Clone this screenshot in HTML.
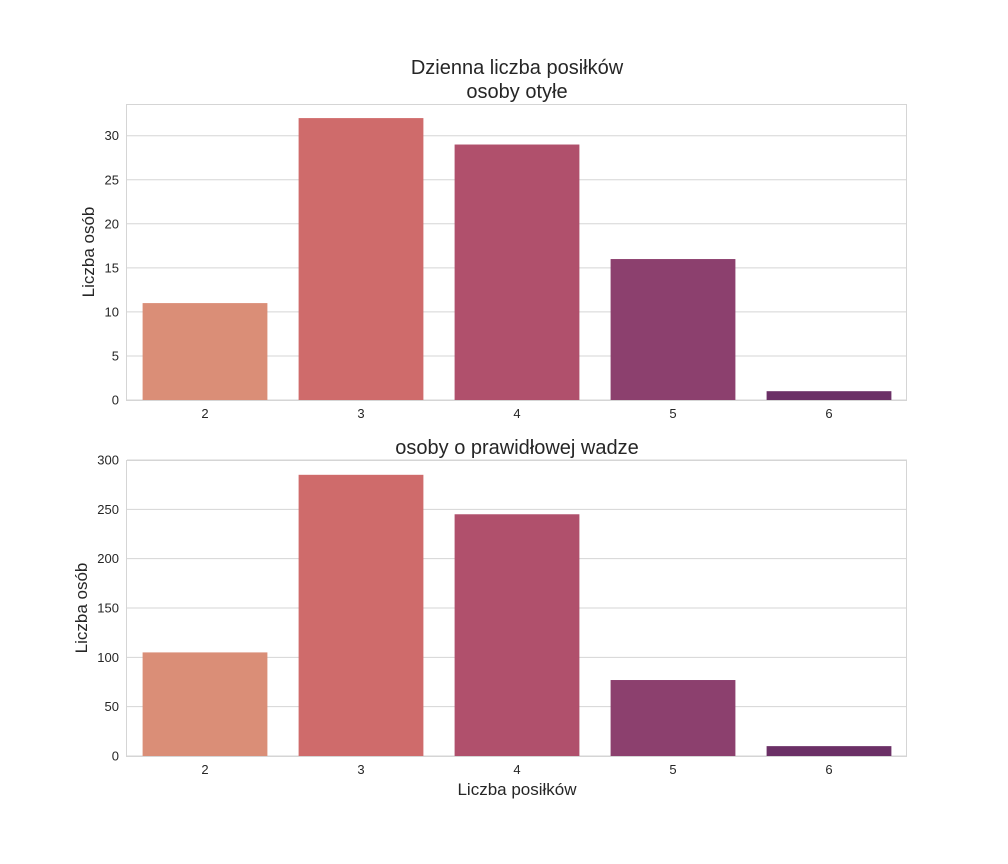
<!DOCTYPE html>
<html><head><meta charset="utf-8"><style>
body{margin:0;background:#fff}
svg{display:block;font-family:"Liberation Sans",Arial,sans-serif}
</style></head><body>
<svg id="c" width="1008" height="864" xmlns="http://www.w3.org/2000/svg"></svg>
<script>
const categories=["2","3","4","5","6"];
const obeseValues=[11,32,29,16,1];
const normalValues=[105,285,245,77,10];
const obeseTicks=[0,5,10,15,20,25,30];
const normalTicks=[0,50,100,150,200,250,300];
const colors=["#da8e77","#cf6b6b","#b0506c","#8c406e","#6b3066"];
const NS="http://www.w3.org/2000/svg";
const svg=document.getElementById('c');
function mk(t,a,txt){const e=document.createElementNS(NS,t);for(const k in a)e.setAttribute(k,a[k]);if(txt!==undefined)e.textContent=txt;svg.appendChild(e);return e;}
function panel(name,vals,ticks,top,bottom,yMax){
  const L=127,R=907;
  const y=v=>bottom-(v/yMax)*(bottom-top);
  const band=(R-L)/categories.length;
  const x=i=>L+band*i+band*0.1;
  ticks.forEach(t=>{
    const g=mk('line',{x1:L,x2:R,y1:y(t),y2:y(t),stroke:'#d5d5d5','stroke-width':1});
    
    
    const tl=mk('text',{x:L-8,y:y(t)+4.5,'text-anchor':'end','font-size':13,fill:'#262626'},String(t));
    
    
  });
  vals.forEach((v,i)=>{
    const b=mk('rect',{x:x(i),y:y(v),width:band*0.8,height:bottom-y(v),fill:colors[i]});
    
    
    const tl=mk('text',{x:x(i)+band*0.4,y:bottom+18,'text-anchor':'middle','font-size':13,fill:'#262626'},categories[i]);
    
    
  });
  const f=mk('rect',{x:L-0.5,y:top+0.5,width:R-L,height:bottom-top,fill:'none',stroke:'#d5d5d5','stroke-width':1});
  
  
}
panel('obese',obeseValues,obeseTicks,104,400,33.6);
panel('normal',normalValues,normalTicks,460,756,300);
function txt(name,a,s){const e=mk('text',a,s);}
txt('main-title',{x:517,y:74,'text-anchor':'middle','font-size':20,fill:'#262626'},'Dzienna liczba posiłków');
txt('obese-title',{x:517,y:98,'text-anchor':'middle','font-size':20,fill:'#262626'},'osoby otyłe');
txt('normal-title',{x:517,y:454,'text-anchor':'middle','font-size':20,fill:'#262626'},'osoby o prawidłowej wadze');
txt('obese-y-axis-title',{x:0,y:0,transform:'translate(94,252) rotate(-90)','text-anchor':'middle','font-size':17,fill:'#262626'},'Liczba osób');
txt('normal-y-axis-title',{x:0,y:0,transform:'translate(87,608) rotate(-90)','text-anchor':'middle','font-size':17,fill:'#262626'},'Liczba osób');
txt('x-axis-title',{x:517,y:795,'text-anchor':'middle','font-size':17,fill:'#262626'},'Liczba posiłków');
</script>
</body></html>
